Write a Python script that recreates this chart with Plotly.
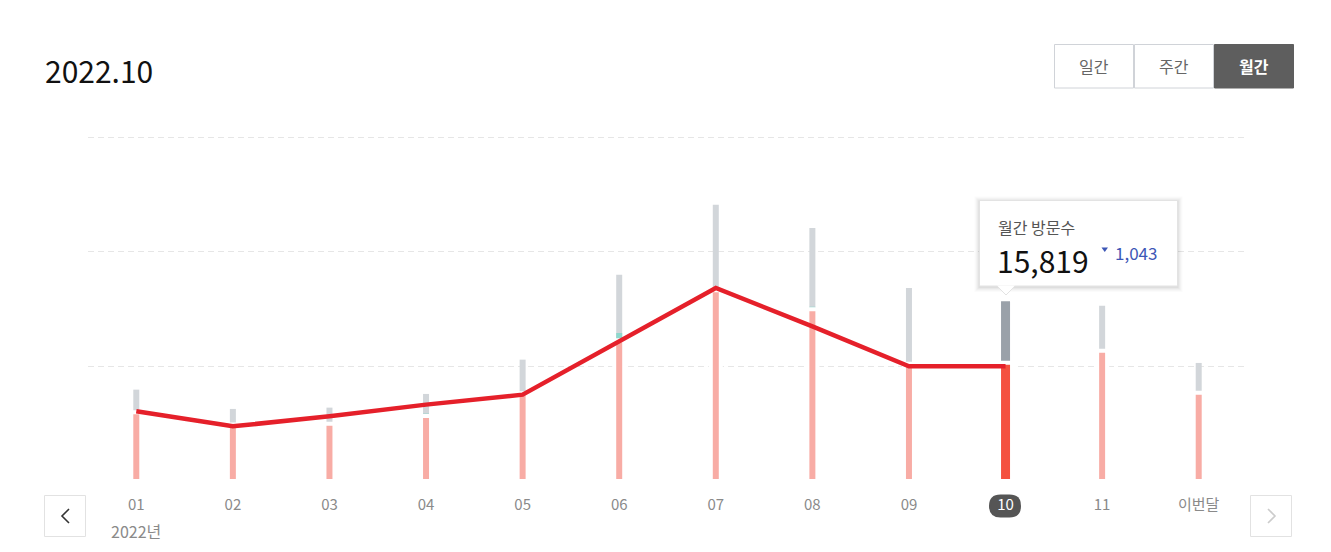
import plotly.graph_objects as go

# ---------------- data ----------------
months = ["01", "02", "03", "04", "05", "06", "07", "08", "09", "10", "11", "이번달"]
year_label = "2022년"
pink_vals = [9501, 7778, 7915, 8977, 12121, 19430, 26325, 23705, 16189, 16327, 17982, 12190]
teal_vals = [0, 0, 0, 317, 0, 993, 0, 345, 0, 0, 0, 0]
grey_vals = [3103, 2165, 2207, 2717, 4620, 8040, 11791, 10852, 10439, 8454, 6206, 4096]
line_months = months[:10]
line_vals = [9612, 7543, 8922, 10536, 11915, 19265, 26628, 21333, 15819, 15819]
grid_step = 15819
selected_idx = 9
title_text = "2022.10"
buttons = ["일간", "주간", "월간"]
tip_label = "월간 방문수"
tip_value = "15,819"
tip_change = "1,043"

# ---------------- layout helpers ----------------
OFF = 8                      # page body margin
W, H = 1315, 536
ML, MR, MT, MB = 80, 76, 127, 63
PW, PH = W - ML - MR, H - MT - MB
FONT = "Noto Sans CJK KR"


def X(px):
    """screen x pixel -> paper"""
    return (px - OFF - ML) / PW


def Y(py):
    """screen y pixel -> paper"""
    return (H - MB - (py - OFF)) / PH


n = len(months)
cat_px = PW / n
bar_px = [9 if i == selected_idx else 6 for i in range(n)]
gap_lw = 4
grey_w = [b / cat_px for b in bar_px]
pink_w = [(b + gap_lw) / cat_px for b in bar_px]

pink_col = ["#f4513f" if i == selected_idx else "#f8aca5" for i in range(n)]
grey_col = ["#9aa1a9" if i == selected_idx else "#d2d6da" for i in range(n)]

total_vals = [p + t + g for p, t, g in zip(pink_vals, teal_vals, grey_vals)]
pt_vals = [p + t for p, t in zip(pink_vals, teal_vals)]

fig = go.Figure()
fig.add_trace(go.Bar(x=months, y=total_vals, width=grey_w,
                     marker=dict(color=grey_col, line=dict(width=0)),
                     hoverinfo="skip"))
fig.add_trace(go.Bar(x=months, y=pt_vals, width=grey_w,
                     marker=dict(color="#8fd8cd", line=dict(width=0)),
                     hoverinfo="skip"))
fig.add_trace(go.Bar(x=months, y=pink_vals, width=pink_w,
                     marker=dict(color=pink_col, line=dict(color="#ffffff", width=gap_lw)),
                     hoverinfo="skip"))
fig.add_trace(go.Scatter(x=line_months, y=line_vals, mode="lines",
                         line=dict(color="#e5202a", width=4.5),
                         hoverinfo="skip"))

ticktext = [f"<span style='color:#ffffff'>{m}</span>" if i == selected_idx else m
            for i, m in enumerate(months)]

px_per_grid = 114.7
fig.update_layout(
    width=W, height=H,
    margin=dict(l=ML, r=MR, t=MT, b=MB),
    paper_bgcolor="#ffffff", plot_bgcolor="#ffffff",
    barmode="overlay", showlegend=False,
    font=dict(family=FONT, color="#888888"),
    xaxis=dict(type="category", range=[-0.5, n - 0.5], showgrid=False,
               zeroline=False, showline=False, ticks="",
               tickvals=months, ticktext=ticktext,
               tickfont=dict(size=15, color="#8a8a8a", family=FONT),
               ticklabelstandoff=13, fixedrange=True),
    yaxis=dict(range=[0, grid_step * (3 + 2 / px_per_grid)],
               tickvals=[grid_step * k for k in (1, 2, 3)],
               showticklabels=False, showgrid=True, gridcolor="#e6e6e6",
               griddash="6px,4px", gridwidth=1, zeroline=False, showline=False,
               fixedrange=True),
)

shapes = []
annos = []

# title
annos.append(dict(x=X(43), y=Y(70), xref="paper", yref="paper", xanchor="left", yanchor="middle",
                  text=title_text, showarrow=False,
                  font=dict(size=30, color="#111111", family=FONT)))

# period buttons
bx = [1054, 1134, 1214, 1294]
for i, lab in enumerate(buttons):
    sel = i == len(buttons) - 1
    shapes.append(dict(type="rect", xref="paper", yref="paper",
                       x0=X(bx[i] + 0.5), x1=X(bx[i + 1] - 0.5), y0=Y(88), y1=Y(44.5),
                       fillcolor="#5e5e5e" if sel else "#ffffff",
                       line=dict(color="#5e5e5e" if sel else "#d0d3d8", width=1)))
    annos.append(dict(x=X((bx[i] + bx[i + 1]) / 2), y=Y(66), xref="paper", yref="paper",
                      xanchor="center", yanchor="middle", text=f"<b>{lab}</b>" if sel else lab,
                      showarrow=False,
                      font=dict(size=16, color="#ffffff" if sel else "#666666", family=FONT)))

# selected month pill
cx, cy, hw, hh = 1005, 506, 16, 11.5
r = hh
path = (f"M {X(cx - hw + r)},{Y(cy - hh)} L {X(cx + hw - r)},{Y(cy - hh)} "
        f"Q {X(cx + hw)},{Y(cy - hh)} {X(cx + hw)},{Y(cy)} "
        f"Q {X(cx + hw)},{Y(cy + hh)} {X(cx + hw - r)},{Y(cy + hh)} "
        f"L {X(cx - hw + r)},{Y(cy + hh)} "
        f"Q {X(cx - hw)},{Y(cy + hh)} {X(cx - hw)},{Y(cy)} "
        f"Q {X(cx - hw)},{Y(cy - hh)} {X(cx - hw + r)},{Y(cy - hh)} Z")
shapes.append(dict(type="path", xref="paper", yref="paper", path=path,
                   fillcolor="#555555", line=dict(width=0), layer="below"))

# year label under first month
annos.append(dict(x=0, y=Y(531), xref="x", yref="paper", xanchor="center",
                  yanchor="middle", text=year_label, showarrow=False,
                  font=dict(size=16, color="#8a8a8a", family=FONT)))

# nav buttons
for (x0, x1, col, pts) in [
    (44.5, 85.5, "#333333", [(69, 509), (62, 516), (69, 523)]),
    (1250.5, 1291.5, "#cccccc", [(1268, 509), (1275, 516), (1268, 523)]),
]:
    shapes.append(dict(type="rect", xref="paper", yref="paper", x0=X(x0), x1=X(x1),
                       y0=Y(536.5), y1=Y(495.5), fillcolor="#ffffff",
                       line=dict(color="#e2e2e2", width=1)))
    p = "M " + " L ".join(f"{X(a)},{Y(b)}" for a, b in pts)
    shapes.append(dict(type="path", xref="paper", yref="paper", path=p,
                       line=dict(color=col, width=1.6)))

# tooltip
tx0, tx1, ty0, ty1 = 979.5, 1177.5, 200.5, 286
for k, a in [(5, 0.015), (4, 0.02), (3, 0.025), (2, 0.03), (1, 0.04)]:
    shapes.append(dict(type="rect", xref="paper", yref="paper",
                       x0=X(tx0 - k), x1=X(tx1 + k), y0=Y(ty1 + k + 1), y1=Y(ty0 - k + 1),
                       fillcolor=f"rgba(0,0,0,{a})", line=dict(width=0)))
shapes.append(dict(type="rect", xref="paper", yref="paper", x0=X(tx0), x1=X(tx1),
                   y0=Y(ty1), y1=Y(ty0), fillcolor="#ffffff",
                   line=dict(color="#e3e3e3", width=1)))
px_c = 1006
shapes.append(dict(type="path", xref="paper", yref="paper",
                   path=f"M {X(px_c - 9)},{Y(ty1 - 0.5)} L {X(px_c + 9)},{Y(ty1 - 0.5)} L {X(px_c)},{Y(ty1 + 9)} Z",
                   fillcolor="#ffffff", line=dict(width=0)))
shapes.append(dict(type="path", xref="paper", yref="paper",
                   path=f"M {X(px_c - 9)},{Y(ty1)} L {X(px_c)},{Y(ty1 + 9)} L {X(px_c + 9)},{Y(ty1)}",
                   line=dict(color="#e3e3e3", width=1)))
annos.append(dict(x=X(997), y=Y(227), xref="paper", yref="paper", xanchor="left",
                  yanchor="middle", text=tip_label, showarrow=False, borderpad=0,
                  font=dict(size=16, color="#555555", family=FONT)))
annos.append(dict(x=X(996), y=Y(259.5), xref="paper", yref="paper", xanchor="left",
                  yanchor="middle", text=tip_value, showarrow=False, borderpad=0,
                  font=dict(size=30, color="#111111", family=FONT)))
shapes.append(dict(type="path", xref="paper", yref="paper",
                   path=f"M {X(1101.5)},{Y(247.5)} L {X(1108)},{Y(247.5)} L {X(1104.75)},{Y(252)} Z",
                   fillcolor="#3d57b6", line=dict(width=0)))
annos.append(dict(x=X(1113), y=Y(252.5), xref="paper", yref="paper", xanchor="left",
                  yanchor="middle", text=tip_change, showarrow=False,
                  font=dict(size=17, color="#3d57b6", family=FONT)))

fig.update_layout(shapes=shapes, annotations=annos)
fig.write_html("out.html", config={"displayModeBar": False})
